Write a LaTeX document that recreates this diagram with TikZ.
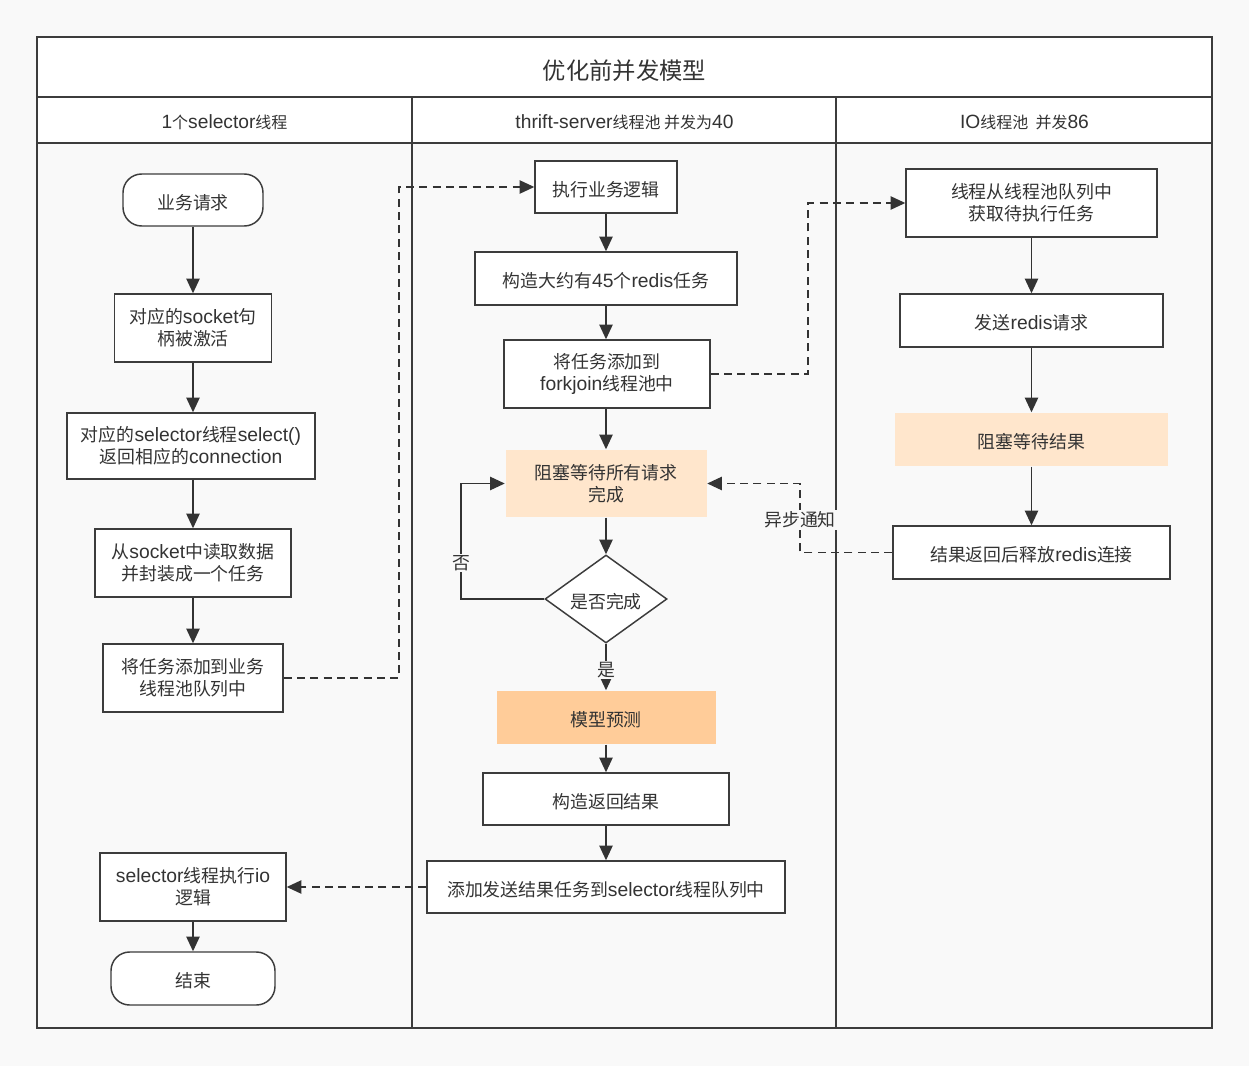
\documentclass[tikz,border=0pt]{standalone}
\usepackage{fontspec}
\setmainfont{Noto Sans CJK SC}
\newfontfamily\lat[Scale=1.2]{Liberation Sans}
\newfontfamily\latb[Scale=1.08]{Liberation Sans}
\usetikzlibrary{arrows.meta,shapes.geometric}
\definecolor{ink}{HTML}{333333}
\definecolor{frame}{HTML}{3C3C3C}
\definecolor{bg}{HTML}{F9F9F9}
\definecolor{olight}{HTML}{FFE6CC}
\definecolor{odark}{HTML}{FFCC99}
\newcommand{\LL}[1]{{\lat #1}}
\newcommand{\LB}[1]{{\latb #1}}
\tikzset{
  sz/.style 2 args={minimum width=#1*0.75pt, minimum height=#2*0.75pt},
  box/.style={draw=frame, line width=1.1pt, fill=white, inner sep=0pt, align=center,
              text=ink, font=\fontsize{13.4}{16.5}\selectfont,
              execute at begin node={\rule{0pt}{14.8pt}}},
  term/.style={box, rounded corners=14pt},
  obox1/.style={box, draw=none, fill=olight},
  obox2/.style={box, draw=none, fill=odark},
  dia/.style={box, shape=diamond, aspect=1.386, minimum width=122*0.75pt, minimum height=88*0.75pt},
  arr/.style={-{Triangle[length=11pt,width=10pt]}, line width=1.1pt, draw=ink},
  dsh/.style={arr, dash pattern=on 6pt off 4pt},
  lbl/.style={fill=bg, inner sep=1pt, text=ink, font=\fontsize{13.4}{16}\selectfont},
  hdr/.style={text=ink, font=\fontsize{12}{14}\selectfont},
  lane/.style={draw=frame, line width=1.5pt}
}
\begin{document}
\begin{tikzpicture}[x=0.75pt,y=-0.75pt]
\useasboundingbox (0,0) rectangle (1249,1066);
\fill[bg] (0,0) rectangle (1249,1066);
% frame
\fill[white] (37,37) rectangle (1212,143);
\draw[lane] (37,37) rectangle (1212,1028);
\draw[lane] (37,97) -- (1212,97);
\draw[lane] (37,143) -- (1212,143);
\draw[lane] (412,97) -- (412,1028);
\draw[lane] (836,97) -- (836,1028);
\node[text=ink, font=\fontsize{17.5}{20}\selectfont] (title) at (624.5,70.5) {优化前并发模型};
\node[hdr] (h1) at (224.5,122) {\LL{1}个\LL{selector}线程};
\node[hdr] (h2) at (624.5,122) {\LL{thrift-server}线程池 并发为\LL{40}};
\node[hdr] (h3) at (1024.5,122) {\LL{IO}线程池~~并发\LL{86}};

% column 1
\node[term, sz={140}{52}] (s1) at (193,200) {业务请求};
\node[box, sz={157}{68}] (s2) at (193,328) {对应的\LB{socket}句\\柄被激活};
\node[box, sz={248}{66}] (s3) at (191,446) {对应的\LB{selector}线程\LB{select()}\\返回相应的\LB{connection}};
\node[box, sz={196}{68}] (s4) at (193,563) {从\LB{socket}中读取数据\\并封装成一个任务};
\node[box, sz={180}{68}] (s5) at (193,678) {将任务添加到业务\\线程池队列中};
\node[box, sz={186}{68}] (s6) at (193,887) {\LB{selector}线程执行\LB{io}\\逻辑};
\node[term, sz={164}{53}] (s7) at (193,978.5) {结束};

% column 2
\node[box, sz={142}{52}] (t1) at (606,187) {执行业务逻辑};
\node[box, sz={262}{53}] (t2) at (606,278.5) {构造大约有\LB{45}个\LB{redis}任务};
\node[box, sz={206}{68}] (t3) at (607,374) {将任务添加到\\\LB{forkjoin}线程池中};
\node[obox1, sz={201}{67}] (t4) at (606,483.5) {阻塞等待所有请求\\完成};
\node[dia] (t5) at (606,599) {是否完成};
\node[obox2, sz={219}{53}] (t6) at (606,717.5) {模型预测};
\node[box, sz={246}{52}] (t7) at (606,799) {构造返回结果};
\node[box, sz={358}{52}] (t8) at (606,887) {添加发送结果任务到\LB{selector}线程队列中};

% column 3
\node[box, sz={251}{68}] (u1) at (1031.5,203) {线程从线程池队列中\\获取待执行任务};
\node[box, sz={263}{53}] (u2) at (1031.5,320.5) {发送\LB{redis}请求};
\node[obox1, sz={273}{53}] (u3) at (1031.5,439.5) {阻塞等待结果};
\node[box, sz={277}{53}] (u4) at (1031.5,552.5) {结果返回后释放\LB{redis}连接};

% solid arrows
\draw[arr] (s1.south) -- (s2.north);
\draw[arr] (s2.south) -- (s2.south |- s3.north);
\draw[arr] (s3.south -| s4.north) -- (s4.north);
\draw[arr] (s4.south) -- (s5.north);
\draw[arr] (s6.south) -- (s7.north);
\draw[arr] (t1.south) -- (t2.north);
\draw[arr] (t2.south) -- (t2.south |- t3.north);
\draw[arr] (t3.south -| t4.north) -- (t4.north);
\draw[arr] (t4.south) -- (t5.north);
\draw[arr] (t6.south) -- (t7.north);
\draw[arr] (t7.south) -- (t8.north);
\draw[arr] (u1.south) -- (u2.north);
\draw[arr] (u2.south) -- (u3.north);
\draw[arr] (u3.south) -- (u4.north);

% decision branches
\coordinate (n1) at (461,599);
\draw[arr] (t5.west) -- (n1) |- (t4.west);
\draw[arr] (t5.south) -- (t6.north);
\node[lbl] (lno) at (461,563) {否};
\node[lbl] (lyes) at (606,670) {是};

% dashed connectors
\coordinate (d1) at (399,678);
\draw[dsh] (s5.east) -- (d1) |- (t1.west);
\coordinate (d2) at (808,374);
\draw[dsh] (t3.east) -- (d2) |- (u1.west);
\coordinate (d3) at (800,552.5);
\draw[dsh] (u4.west) -- (d3) |- (t4.east);
\node[lbl] (lasync) at (800,520) {异步通知};
\draw[dsh] (t8.west) -- (s6.east);
\end{tikzpicture}
\end{document}
